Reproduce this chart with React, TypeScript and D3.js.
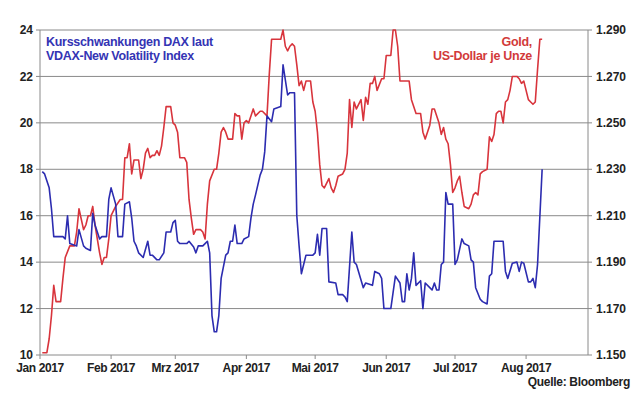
import React from "react";
import * as d3 from "d3";

// ---- data ----
const monthTicks = ["2017-01-01","2017-02-01","2017-03-01","2017-04-01","2017-05-01","2017-06-01","2017-07-01","2017-08-01"];
const monthLabels = ["Jan 2017","Feb 2017","Mrz 2017","Apr 2017","Mai 2017","Jun 2017","Jul 2017","Aug 2017"];
const vdaxTicks = [10, 12, 14, 16, 18, 20, 22, 24];
const goldTicks = [1150, 1170, 1190, 1210, 1230, 1250, 1270, 1290];

const vdax: [string, number][] = [
  ["2017-01-02",17.9],["2017-01-03",17.8],["2017-01-05",17.2],["2017-01-06",16.3],["2017-01-07",15.1],
  ["2017-01-11",15.1],["2017-01-12",15.0],["2017-01-13",16.0],["2017-01-14",14.8],["2017-01-17",14.7],
  ["2017-01-18",15.4],["2017-01-20",14.7],["2017-01-21",14.6],["2017-01-23",14.5],["2017-01-24",16.1],
  ["2017-01-25",15.6],["2017-01-27",15.0],["2017-01-28",15.1],["2017-01-30",15.1],["2017-01-31",16.7],
  ["2017-02-01",17.2],["2017-02-03",16.5],["2017-02-04",15.1],["2017-02-06",15.1],["2017-02-07",16.5],
  ["2017-02-09",16.6],["2017-02-10",15.9],["2017-02-11",14.9],["2017-02-12",14.7],["2017-02-13",14.4],
  ["2017-02-15",14.2],["2017-02-17",14.9],["2017-02-18",14.3],["2017-02-19",14.3],["2017-02-21",14.1],
  ["2017-02-22",14.1],["2017-02-24",14.4],["2017-02-25",15.3],["2017-02-27",15.3],["2017-02-28",15.7],
  ["2017-03-01",15.8],["2017-03-02",14.9],["2017-03-03",14.8],["2017-03-05",14.8],["2017-03-06",14.8],
  ["2017-03-07",14.9],["2017-03-09",14.65],["2017-03-10",14.4],["2017-03-11",14.7],["2017-03-13",14.7],
  ["2017-03-14",14.8],["2017-03-15",14.9],["2017-03-16",14.4],["2017-03-17",11.7],["2017-03-18",11.0],
  ["2017-03-19",11.0],["2017-03-20",11.7],["2017-03-21",13.3],["2017-03-23",14.3],["2017-03-24",14.4],
  ["2017-03-25",14.9],["2017-03-26",14.9],["2017-03-27",15.6],["2017-03-28",14.8],["2017-03-30",14.8],
  ["2017-03-31",15.0],["2017-04-02",15.1],["2017-04-03",15.9],["2017-04-04",16.5],["2017-04-05",16.9],
  ["2017-04-07",17.75],["2017-04-08",18.0],["2017-04-09",18.75],["2017-04-10",20.3],["2017-04-12",20.05],
  ["2017-04-13",20.6],["2017-04-16",20.7],["2017-04-17",22.5],["2017-04-19",21.2],["2017-04-20",21.3],
  ["2017-04-22",21.3],["2017-04-23",16.0],["2017-04-24",14.7],["2017-04-25",13.5],["2017-04-27",14.3],
  ["2017-04-30",14.3],["2017-05-01",14.4],["2017-05-02",15.2],["2017-05-03",14.3],["2017-05-04",15.45],
  ["2017-05-06",15.45],["2017-05-07",13.15],["2017-05-10",13.1],["2017-05-11",12.6],["2017-05-13",12.6],
  ["2017-05-14",12.5],["2017-05-15",12.3],["2017-05-17",15.3],["2017-05-18",14.0],["2017-05-19",13.9],
  ["2017-05-22",12.9],["2017-05-23",13.1],["2017-05-26",13.0],["2017-05-27",13.6],["2017-05-29",13.5],
  ["2017-05-30",13.3],["2017-05-31",12.0],["2017-06-03",12.0],["2017-06-04",12.7],["2017-06-05",13.4],
  ["2017-06-07",13.1],["2017-06-08",12.3],["2017-06-09",12.3],["2017-06-10",13.5],["2017-06-11",12.8],
  ["2017-06-12",13.3],["2017-06-13",14.4],["2017-06-14",13.0],["2017-06-16",13.2],["2017-06-17",12.0],
  ["2017-06-18",13.1],["2017-06-20",12.9],["2017-06-21",12.8],["2017-06-22",13.1],["2017-06-23",12.8],
  ["2017-06-24",12.8],["2017-06-25",13.9],["2017-06-26",14.0],["2017-06-27",17.0],["2017-06-28",16.5],
  ["2017-06-30",16.5],["2017-07-01",13.9],["2017-07-02",14.1],["2017-07-04",15.0],["2017-07-05",14.8],
  ["2017-07-07",14.7],["2017-07-08",14.1],["2017-07-09",14.0],["2017-07-10",12.9],["2017-07-12",12.4],
  ["2017-07-13",12.3],["2017-07-15",12.2],["2017-07-16",13.4],["2017-07-17",13.5],["2017-07-18",14.9],
  ["2017-07-22",14.9],["2017-07-23",13.6],["2017-07-24",13.3],["2017-07-26",13.95],["2017-07-28",14.0],
  ["2017-07-29",13.6],["2017-07-30",14.0],["2017-07-31",13.95],["2017-08-02",13.15],["2017-08-03",13.15],
  ["2017-08-04",13.3],["2017-08-05",12.9],["2017-08-06",13.9],["2017-08-08",18.0],
];

const gold: [string, number][] = [
  ["2017-01-02",1151],["2017-01-04",1151],["2017-01-05",1157],["2017-01-06",1167],["2017-01-07",1180],
  ["2017-01-08",1173],["2017-01-10",1173],["2017-01-11",1183],["2017-01-12",1192],["2017-01-14",1197],
  ["2017-01-16",1197],["2017-01-17",1203],["2017-01-18",1213],["2017-01-20",1204],["2017-01-21",1206],
  ["2017-01-22",1210],["2017-01-23",1210],["2017-01-24",1214],["2017-01-25",1206],["2017-01-27",1194],
  ["2017-01-28",1189],["2017-01-29",1192],["2017-01-30",1192],["2017-01-31",1200],["2017-02-01",1210],
  ["2017-02-03",1214],["2017-02-05",1217],["2017-02-06",1217],["2017-02-07",1235],["2017-02-08",1235],
  ["2017-02-09",1241],["2017-02-10",1228],["2017-02-11",1234],["2017-02-13",1234],["2017-02-14",1226],
  ["2017-02-15",1230],["2017-02-16",1237],["2017-02-17",1239],["2017-02-18",1235],["2017-02-19",1236],
  ["2017-02-20",1236],["2017-02-21",1238],["2017-02-22",1236],["2017-02-23",1240],["2017-02-24",1248],
  ["2017-02-25",1257],["2017-02-27",1257],["2017-02-28",1250],["2017-03-01",1249],["2017-03-02",1246],
  ["2017-03-03",1235],["2017-03-05",1235],["2017-03-06",1233],["2017-03-07",1217],["2017-03-08",1209],
  ["2017-03-09",1202],["2017-03-10",1204],["2017-03-12",1204],["2017-03-13",1203],["2017-03-14",1200],
  ["2017-03-15",1215],["2017-03-16",1225],["2017-03-18",1230],["2017-03-19",1230],["2017-03-20",1237],
  ["2017-03-21",1246],["2017-03-22",1248],["2017-03-23",1246],["2017-03-24",1243],["2017-03-26",1243],
  ["2017-03-27",1254],["2017-03-28",1253],["2017-03-29",1253],["2017-03-30",1243],["2017-03-31",1250],
  ["2017-04-01",1251],["2017-04-02",1250],["2017-04-03",1253],["2017-04-04",1256],["2017-04-05",1253],
  ["2017-04-07",1255],["2017-04-08",1255],["2017-04-10",1253],["2017-04-11",1271],["2017-04-12",1286],
  ["2017-04-14",1286],["2017-04-15",1286],["2017-04-16",1286],["2017-04-17",1290],["2017-04-18",1283],
  ["2017-04-19",1281],["2017-04-20",1283],["2017-04-21",1284],["2017-04-22",1283],["2017-04-23",1275],
  ["2017-04-24",1266],["2017-04-25",1268],["2017-04-26",1264],["2017-04-27",1268],["2017-04-28",1268],
  ["2017-04-29",1268],["2017-04-30",1259],["2017-05-01",1255],["2017-05-02",1246],["2017-05-03",1232],
  ["2017-05-04",1223],["2017-05-05",1222],["2017-05-07",1226],["2017-05-08",1222],["2017-05-09",1220],
  ["2017-05-10",1223],["2017-05-11",1227],["2017-05-13",1228],["2017-05-14",1230],["2017-05-15",1237],
  ["2017-05-16",1260],["2017-05-17",1248],["2017-05-18",1259],["2017-05-19",1256],["2017-05-21",1260],
  ["2017-05-22",1251],["2017-05-23",1261],["2017-05-24",1258],["2017-05-25",1267],["2017-05-26",1267],
  ["2017-05-27",1270],["2017-05-28",1264],["2017-05-30",1269],["2017-05-31",1269],["2017-06-01",1279],
  ["2017-06-03",1279],["2017-06-04",1290],["2017-06-05",1290],["2017-06-06",1283],["2017-06-07",1268],
  ["2017-06-09",1268],["2017-06-11",1268],["2017-06-12",1260],["2017-06-14",1254],["2017-06-16",1254],
  ["2017-06-17",1246],["2017-06-18",1243],["2017-06-20",1249],["2017-06-21",1256],["2017-06-22",1256],
  ["2017-06-24",1250],["2017-06-25",1245],["2017-06-26",1248],["2017-06-27",1243],["2017-06-28",1241],
  ["2017-06-29",1232],["2017-06-30",1220],["2017-07-01",1222],["2017-07-02",1225],["2017-07-03",1227],
  ["2017-07-04",1220],["2017-07-05",1214],["2017-07-07",1213],["2017-07-08",1215],["2017-07-09",1219],
  ["2017-07-10",1220],["2017-07-11",1219],["2017-07-12",1228],["2017-07-13",1229],["2017-07-15",1230],
  ["2017-07-16",1244],["2017-07-17",1242],["2017-07-18",1245],["2017-07-19",1254],["2017-07-20",1255],
  ["2017-07-21",1255],["2017-07-22",1250],["2017-07-23",1259],["2017-07-24",1260],["2017-07-25",1264],
  ["2017-07-26",1270],["2017-07-28",1270],["2017-07-29",1269],["2017-07-30",1267],["2017-07-31",1268],
  ["2017-08-02",1260],["2017-08-03",1259],["2017-08-04",1258],["2017-08-05",1259],["2017-08-06",1273],
  ["2017-08-07",1286],["2017-08-08",1286],
];

const blueTitle = ["Kursschwankungen DAX laut", "VDAX-New Volatility Index"];
const redTitle = ["Gold,", "US-Dollar je Unze"];
const sourceNote = "Quelle: Bloomberg";

// ---- layout ----
const W = 640, H = 394;
const L = 40, R = 588, T = 30, B = 355;
const FONT = "'Liberation Sans', Arial, sans-serif";
const BLUE = "#2c2cb0";
const RED = "#d8343c";
const GRID = "#8a8a8a";

const parse = d3.timeParse("%Y-%m-%d");
const x = d3.scaleTime().domain([new Date(2017, 0, 1), new Date(2017, 7, 28)]).range([L, R]);
const yL = d3.scaleLinear().domain([10, 24]).range([B, T]);
const yR = d3.scaleLinear().domain([1150, 1290]).range([B, T]);
const fmtGold = (v: number) => (v / 1000).toFixed(3);

export default function App() {
  const blueLine = d3.line<[string, number]>().x(d => x(parse(d[0])!)).y(d => yL(d[1]))(vdax) || "";
  const redLine = d3.line<[string, number]>().x(d => x(parse(d[0])!)).y(d => yR(d[1]))(gold) || "";
  const lbl = { fontFamily: FONT, fontWeight: 700, fontSize: 12, fill: "#222" } as const;
  return (
    <svg width={W} height={H} style={{ position: "absolute", left: 0, top: 0, background: "#fff" }}>
      <rect x={0} y={0} width={W} height={H} fill="#fff" />
      {vdaxTicks.map(t => (
        <line key={"g" + t} x1={L - 4} x2={R + 4} y1={yL(t)} y2={yL(t)} stroke={GRID} strokeWidth={1} />
      ))}
      <line x1={L} x2={L} y1={T} y2={B} stroke={GRID} strokeWidth={1} />
      <line x1={R} x2={R} y1={T} y2={B} stroke={GRID} strokeWidth={1} />
      {monthTicks.map(m => (
        <line key={"t" + m} x1={x(parse(m)!)} x2={x(parse(m)!)} y1={B} y2={B + 4} stroke={GRID} strokeWidth={1} />
      ))}
      {vdaxTicks.map(t => (
        <text key={"l" + t} x={L - 7} y={yL(t)} dy="0.35em" textAnchor="end" {...lbl}>{t}</text>
      ))}
      {goldTicks.map(t => (
        <text key={"r" + t} x={R + 8} y={yR(t)} dy="0.35em" textAnchor="start" {...lbl}>{fmtGold(t)}</text>
      ))}
      {monthTicks.map((m, i) => (
        <text key={"m" + m} x={x(parse(m)!)} y={B + 17} textAnchor="middle" {...lbl} letterSpacing={-0.4}>{monthLabels[i]}</text>
      ))}
      <text x={630} y={386} textAnchor="end" {...lbl} letterSpacing={-0.3}>{sourceNote}</text>
      <path d={redLine} fill="none" stroke={RED} strokeWidth={1.6} strokeLinejoin="round" />
      <path d={blueLine} fill="none" stroke={BLUE} strokeWidth={1.6} strokeLinejoin="round" />
      {blueTitle.map((s, i) => (
        <text key={"bt" + i} x={46} y={46 + i * 14} fontFamily={FONT} fontWeight={700} fontSize={12.5} fill="#3434b4" letterSpacing={-0.3}>{s}</text>
      ))}
      {redTitle.map((s, i) => (
        <text key={"rt" + i} x={532} y={46 + i * 14} textAnchor="end" fontFamily={FONT} fontWeight={700} fontSize={12.5} fill="#d23a3a" letterSpacing={-0.3}>{s}</text>
      ))}
    </svg>
  );
}
